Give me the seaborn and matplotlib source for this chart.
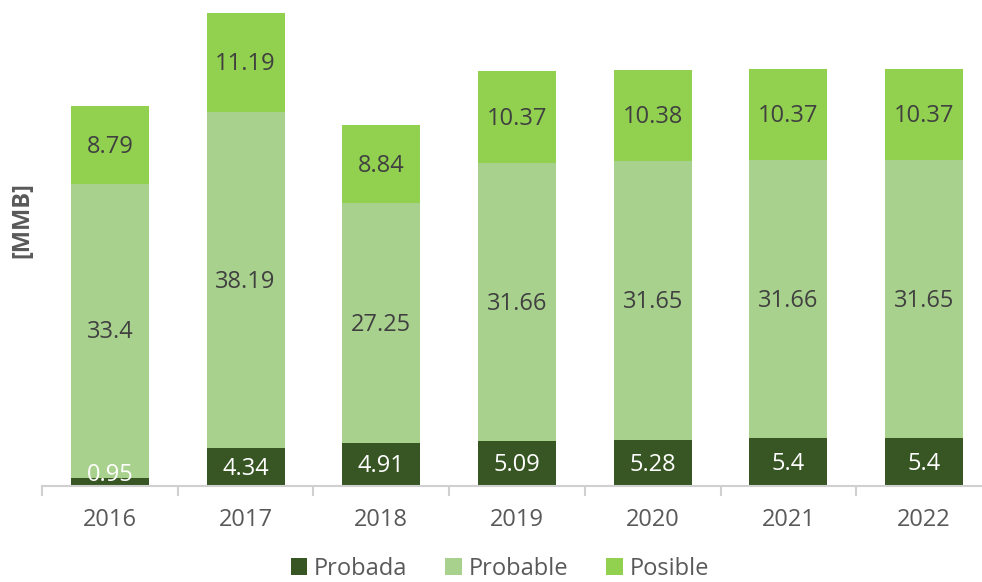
import numpy as np
import pandas as pd
import matplotlib
matplotlib.use("Agg")
import matplotlib.pyplot as plt
import seaborn as sns

# ----------------------------
# DATOS
# ----------------------------
anios = ['2016', '2017', '2018', '2019', '2020', '2021', '2022']
probada = [0.95, 4.34, 4.91, 5.09, 5.28, 5.4, 5.4]
probable = [33.4, 38.19, 27.25, 31.66, 31.65, 31.66, 31.65]
posible = [8.79, 11.19, 8.84, 10.37, 10.38, 10.37, 10.37]

series = ['Probada', 'Probable', 'Posible']
colores = ['#375623', '#a9d18e', '#92d050']

df = pd.DataFrame({'anio': anios, 'Probada': probada, 'Probable': probable, 'Posible': posible})

sns.set_style("white")
plt.rcParams['font.family'] = ['Open Sans', 'DejaVu Sans']

fig = plt.figure(figsize=(9.82, 5.82), dpi=100)
ax = fig.add_axes([42 / 982, 96 / 582, 950 / 982, 484 / 582])

# barras apiladas: cada capa se dibuja con la suma acumulada
acum = df[series].cumsum(axis=1)
for s, c in reversed(list(zip(series, colores))):
    sns.barplot(x=df['anio'], y=acum[s], color=c, width=0.575, ax=ax,
                saturation=1, label=s, edgecolor='none')

# etiquetas
base = np.zeros(len(anios))
for s in series:
    vals = df[s].values
    for i, v in enumerate(vals):
        y = base[i] + v / 2
        col = '#404040'
        if s == 'Probada':
            col = 'white'
            if v < 2:
                y = base[i] + 1.5
        ax.text(i, y - 0.2, f"{v:g}", ha='center', va='center', fontsize=17, color=col)
    base += vals

ax.set_ylim(0, 55)
ax.set_xlim(-0.5, 6.5)
ax.set_yticks([])
ax.set_xlabel('')
ax.set_ylabel('')
for sp in ['top', 'right', 'left']:
    ax.spines[sp].set_visible(False)
ax.spines['bottom'].set_color('#d0d0d0')
ax.spines['bottom'].set_linewidth(1.5)

ax.set_xticks(np.arange(-0.5, 7, 1), minor=True)
ax.tick_params(axis='x', which='minor', bottom=True, length=7, width=1.5, color='#d0d0d0', direction='out')
ax.tick_params(axis='x', which='major', length=0, labelsize=17, labelcolor='#595959', pad=16)

fig.text(22 / 982, 1 - 220 / 582, '[MMB]', rotation=90, ha='center', va='center',
         fontsize=17, fontweight='bold', color='#595959')

handles, labels = ax.get_legend_handles_labels()
orden = [labels.index(s) for s in series]
ax.legend([handles[i] for i in orden], [labels[i] for i in orden],
          loc='center', bbox_to_anchor=(500 / 982, 1 - 569 / 582),
          bbox_transform=fig.transFigure, ncol=3, frameon=False,
          fontsize=17, labelcolor='#595959', handlelength=0.7, handleheight=0.7,
          handletextpad=0.3, columnspacing=1.6, borderaxespad=0)

fig.savefig('out.png', dpi=100)
